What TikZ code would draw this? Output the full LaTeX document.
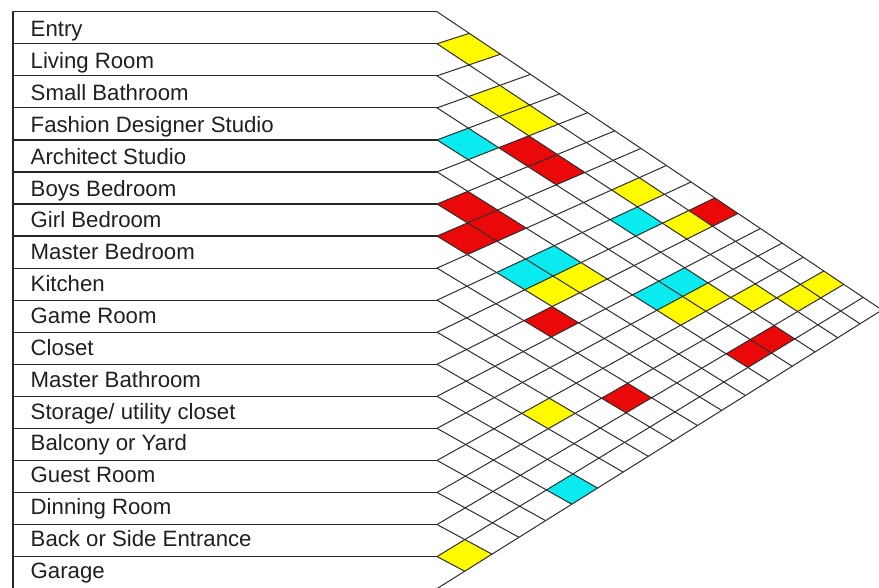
\documentclass[tikz,border=0pt]{standalone}
\usepackage{fontspec}
\setmainfont{Liberation Sans}
\definecolor{cellY}{RGB}{255,250,0}
\definecolor{cellC}{RGB}{10,235,240}
\definecolor{cellR}{RGB}{235,8,8}
\definecolor{gridc}{RGB}{45,45,45}
\tikzset{
  labline/.style={line width=1.2pt, draw=black!85, line cap=round},
  gridline/.style={line width=1pt, draw=gridc, line cap=round},
  lab/.style={anchor=base west, inner sep=0pt, font=\fontsize{22.2}{26}\selectfont, text=black!88},
}
\newcommand\adjcell[3]{%
  \pgfmathtruncatemacro\cellIm{#2-1}%
  \pgfmathtruncatemacro\cellJm{#3-1}%
  \fill[#1] (intersection cs: first line={(P\cellIm)--(Q\cellIm)}, second line={(P\cellJm)--(R\cellJm)})
    -- (intersection cs: first line={(P#2)--(Q#2)}, second line={(P\cellJm)--(R\cellJm)})
    -- (intersection cs: first line={(P#2)--(Q#2)}, second line={(P#3)--(R#3)})
    -- (intersection cs: first line={(P\cellIm)--(Q\cellIm)}, second line={(P#3)--(R#3)})
    -- cycle;}
\begin{document}
\begin{tikzpicture}[x=1pt,y=-1pt]
\useasboundingbox (0,0) rectangle (879,587);
\clip (0,0) rectangle (879,587);
\def\cA{0.33}\def\cB{0.13}
\foreach \k in {0,...,18}{
  \coordinate (P\k) at (437,{11.7+32.05*\k});
  \coordinate (W\k) at (13,{11.7+32.05*\k});
}
\foreach \m in {1,...,18}{
  \pgfmathsetmacro\frc{(1+\cA)*(\m/18)/(1+\cA*\m/18)}
  \coordinate (R\m) at ({437+445*\frc},{11.7+298.3*\frc});
}
\foreach \k in {0,...,17}{
  \pgfmathsetmacro\frc{(1+\cB)*((18-\k)/18)/(1+\cB*(18-\k)/18)}
  \coordinate (Q\k) at ({437+445*\frc},{588.6-278.6*\frc});
}
% coloured cells
\foreach \cc/\ii/\jj in {cellY/1/2, cellY/2/4, cellY/2/5, cellY/2/9, cellY/2/11,
  cellY/6/11, cellY/7/11, cellY/4/14, cellY/5/14, cellY/3/15, cellY/1/16, cellY/2/16,
  cellY/11/15, cellY/17/18,
  cellC/4/5, cellC/3/10, cellC/6/10, cellC/7/10, cellC/4/13, cellC/5/13, cellC/13/18,
  cellR/3/6, cellR/3/7, cellR/1/11, cellR/6/7, cellR/6/8, cellR/7/8, cellR/8/12,
  cellR/4/17, cellR/5/17, cellR/9/16}{\adjcell{\cc}{\ii}{\jj}}
% grid lines
\foreach \k in {0,...,17}{\draw[gridline] (P\k) -- (Q\k);}
\foreach \m in {1,...,18}{\draw[gridline] (P\m) -- (R\m);}
% label table
\foreach \k in {0,...,18}{\draw[labline] (W\k) -- (P\k);}
\draw[labline] (W0) -- (W18);
\foreach \k/\txt in {1/Entry, 2/{Living Room}, 3/{Small Bathroom}, 4/{Fashion Designer Studio},
  5/{Architect Studio}, 6/{Boys Bedroom}, 7/{Girl Bedroom}, 8/{Master Bedroom}, 9/Kitchen,
  10/{Game Room}, 11/Closet, 12/{Master Bathroom}, 13/{Storage/ utility closet},
  14/{Balcony or Yard}, 15/{Guest Room}, 16/{Dinning Room}, 17/{Back or Side Entrance}, 18/Garage}{
  \node[lab] (L\k) at (30.5,{36.7+31.86*(\k-1)}) {\txt};
}
\end{tikzpicture}
\end{document}
